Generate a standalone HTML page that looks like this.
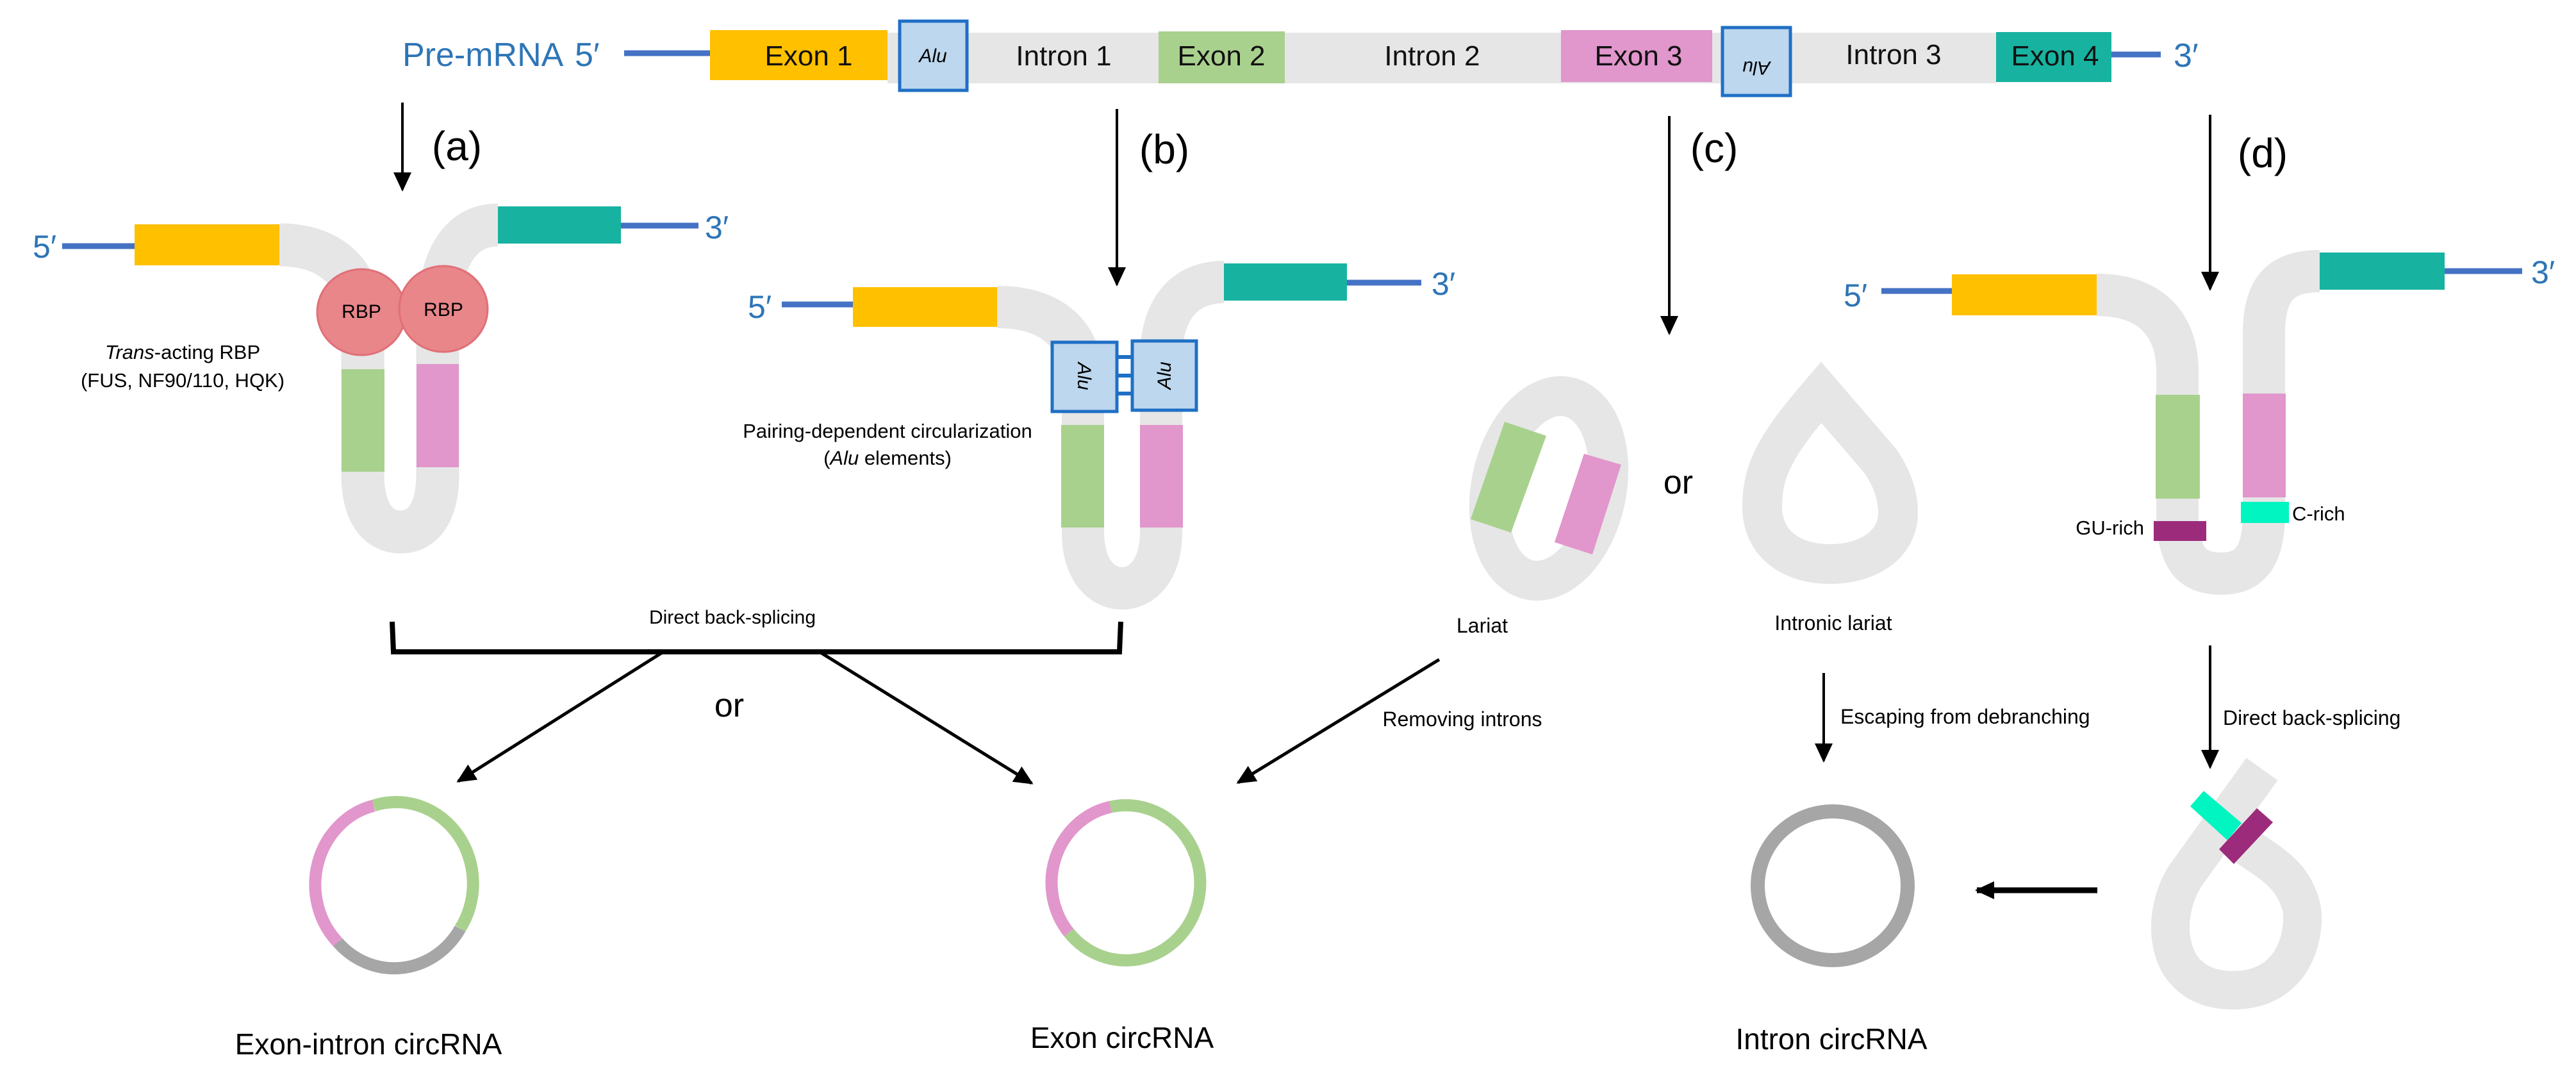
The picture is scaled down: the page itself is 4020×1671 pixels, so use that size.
<!DOCTYPE html>
<html><head><meta charset="utf-8"><style>
html,body{margin:0;padding:0;background:#fff}
svg{display:block}
text{font-family:"Liberation Sans Narrow","Liberation Sans",sans-serif}
</style></head><body>
<svg width="4020" height="1671" viewBox="0 0 4020 1671" xmlns="http://www.w3.org/2000/svg">
<defs>
<marker id="ah" viewBox="0 0 10 10" refX="9" refY="5" markerWidth="30" markerHeight="28" orient="auto" markerUnits="userSpaceOnUse" preserveAspectRatio="none"><path d="M0,0 L10,5 L0,10 z" fill="#000"/></marker>
</defs>
<!-- Top pre-mRNA -->
<text x="628" y="103" font-size="52" fill="#2e75b6">Pre-mRNA</text>
<text x="897" y="103" font-size="52" fill="#2e75b6">5′</text>
<line x1="974" y1="83" x2="1108" y2="83" stroke="#4472c4" stroke-width="9"/>
<rect x="1385" y="51" width="1730" height="79" fill="#e6e6e6"/>
<rect x="1108" y="47" width="277" height="78" fill="#ffc000"/>
<rect x="1808" y="49" width="197" height="81" fill="#a9d18e"/>
<rect x="2436" y="47" width="236" height="81" fill="#e196cc"/>
<rect x="3115" y="50" width="180" height="78" fill="#17b3a0"/>
<rect x="1404" y="33" width="105" height="108" fill="#bdd7ee" stroke="#1f6fc5" stroke-width="5"/>
<rect x="2688" y="43" width="106" height="106" fill="#bdd7ee" stroke="#1f6fc5" stroke-width="5"/>
<text x="1456" y="97" font-size="30" font-style="italic" text-anchor="middle">Alu</text>
<text transform="translate(2741,96) rotate(180)" font-size="30" font-style="italic" text-anchor="middle">Alu</text>
<g font-size="44" text-anchor="middle" fill="#111">
<text x="1262" y="102">Exon 1</text>
<text x="1660" y="102">Intron 1</text>
<text x="1906" y="102">Exon 2</text>
<text x="2235" y="102">Intron 2</text>
<text x="2557" y="102">Exon 3</text>
<text x="2955" y="100">Intron 3</text>
<text x="3207" y="102">Exon 4</text>
</g>
<line x1="3295" y1="85" x2="3372" y2="85" stroke="#4472c4" stroke-width="9"/>
<text x="3392" y="104" font-size="52" fill="#2e75b6">3′</text>

<!-- down arrows -->
<g stroke="#000" stroke-width="4" fill="none">
<line x1="628" y1="160" x2="628" y2="296" marker-end="url(#ah)"/>
<line x1="1743" y1="170" x2="1743" y2="444" marker-end="url(#ah)"/>
<line x1="2605" y1="181" x2="2605" y2="520" marker-end="url(#ah)"/>
<line x1="3449" y1="179" x2="3449" y2="451" marker-end="url(#ah)"/>
<line x1="2846" y1="1050" x2="2846" y2="1187" marker-end="url(#ah)"/>
<line x1="3449" y1="1007" x2="3449" y2="1197" marker-end="url(#ah)"/>
</g>
<g font-size="64" text-anchor="middle" fill="#000">
<text x="713" y="250">(a)</text>
<text x="1817" y="255">(b)</text>
<text x="2675" y="253">(c)</text>
<text x="3531" y="261">(d)</text>
</g>

<!-- Panel a -->
<path d="M436 382 C520 382 566 430 566 510 L566 740 C566 800 590 830 625 830 C660 830 683 800 683 740 L683 510 C683 400 720 351 777 351" fill="none" stroke="#e6e6e6" stroke-width="67"/>
<text x="51" y="402" font-size="50" fill="#2e75b6">5′</text>
<line x1="97" y1="384" x2="210" y2="384" stroke="#4472c4" stroke-width="9"/>
<rect x="210" y="350" width="226" height="64" fill="#ffc000"/>
<rect x="777" y="322" width="192" height="58" fill="#17b3a0"/>
<line x1="969" y1="352" x2="1090" y2="352" stroke="#4472c4" stroke-width="9"/>
<text x="1100" y="372" font-size="50" fill="#2e75b6">3′</text>
<rect x="533" y="576" width="67" height="160" fill="#a9d18e"/>
<rect x="650" y="568" width="66" height="161" fill="#e196cc"/>
<ellipse cx="564" cy="487" rx="69" ry="67" fill="#e8868a" stroke="#e07078" stroke-width="3"/>
<ellipse cx="692" cy="482" rx="69" ry="67" fill="#e8868a" stroke="#e07078" stroke-width="3"/>
<text x="564" y="496" font-size="30" text-anchor="middle">RBP</text>
<text x="692" y="493" font-size="30" text-anchor="middle">RBP</text>
<text x="285" y="560" font-size="31" text-anchor="middle"><tspan font-style="italic">Trans</tspan>-acting RBP</text>
<text x="285" y="604" font-size="31" text-anchor="middle">(FUS, NF90/110, HQK)</text>

<!-- Panel b -->
<path d="M1556 479 C1640 479 1690 520 1690 600 L1690 830 C1690 890 1720 918 1751 918 C1782 918 1812 890 1812 830 L1812 560 C1812 480 1850 440 1910 440" fill="none" stroke="#e6e6e6" stroke-width="66"/>
<text x="1167" y="496" font-size="50" fill="#2e75b6">5′</text>
<line x1="1220" y1="475" x2="1331" y2="475" stroke="#4472c4" stroke-width="9"/>
<rect x="1331" y="448" width="225" height="62" fill="#ffc000"/>
<rect x="1910" y="411" width="192" height="58" fill="#17b3a0"/>
<line x1="2102" y1="441" x2="2218" y2="441" stroke="#4472c4" stroke-width="9"/>
<text x="2234" y="460" font-size="50" fill="#2e75b6">3′</text>
<g stroke="#1f6fc5" stroke-width="6"><line x1="1743" y1="557" x2="1767" y2="557"/><line x1="1743" y1="586" x2="1767" y2="586"/><line x1="1743" y1="614" x2="1767" y2="614"/></g>
<rect x="1642" y="534" width="101" height="108" fill="#bdd7ee" stroke="#1f6fc5" stroke-width="5"/>
<rect x="1767" y="532" width="100" height="108" fill="#bdd7ee" stroke="#1f6fc5" stroke-width="5"/>
<text transform="translate(1682,587) rotate(90)" font-size="30" font-style="italic" text-anchor="middle">Alu</text>
<text transform="translate(1827,586) rotate(-90)" font-size="30" font-style="italic" text-anchor="middle">Alu</text>
<rect x="1656" y="663" width="67" height="160" fill="#a9d18e"/>
<rect x="1779" y="663" width="67" height="160" fill="#e196cc"/>
<text x="1385" y="683" font-size="31" text-anchor="middle">Pairing-dependent circularization</text>
<text x="1385" y="725" font-size="31" text-anchor="middle">(<tspan font-style="italic">Alu</tspan> elements)</text>

<!-- Panel c -->
<ellipse cx="2417" cy="762" rx="90" ry="146" transform="rotate(12 2417 762)" fill="none" stroke="#e6e6e6" stroke-width="62"/>
<polygon points="2348,658 2413,680 2358,831 2295,810" fill="#a9d18e"/>
<polygon points="2472,708 2530,725 2485,865 2426,846" fill="#e196cc"/>
<text x="2619" y="770" font-size="52" text-anchor="middle">or</text>
<path d="M2842 612 L2935 720 Q2962 760 2962 800 C2962 850 2915 880 2856 880 C2797 880 2750 850 2750 790 C2750 730 2775 690 2842 612 Z" fill="none" stroke="#e6e6e6" stroke-width="62" stroke-linejoin="miter" stroke-miterlimit="10"/>
<g font-size="32" text-anchor="middle">
<text x="2313" y="987">Lariat</text>
<text x="2861" y="983">Intronic lariat</text>
</g>
<text x="2282" y="1133" font-size="32" text-anchor="middle">Removing introns</text>
<text x="2872" y="1129" font-size="32">Escaping from debranching</text>
<text x="3469" y="1131" font-size="32">Direct back-splicing</text>
<line x1="2246" y1="1029" x2="1932" y2="1221" stroke="#000" stroke-width="5" marker-end="url(#ah)"/>

<!-- Panel d -->
<path d="M3272 460 C3360 460 3398 510 3398 580 L3398 800 C3398 870 3420 895 3466 895 C3510 895 3533 870 3533 800 L3533 520 C3533 450 3560 423 3620 423" fill="none" stroke="#e6e6e6" stroke-width="66"/>
<text x="2877" y="478" font-size="50" fill="#2e75b6">5′</text>
<line x1="2936" y1="454" x2="3046" y2="454" stroke="#4472c4" stroke-width="9"/>
<rect x="3046" y="428" width="226" height="64" fill="#ffc000"/>
<rect x="3620" y="394" width="195" height="58" fill="#17b3a0"/>
<line x1="3815" y1="423" x2="3936" y2="423" stroke="#4472c4" stroke-width="9"/>
<text x="3950" y="442" font-size="50" fill="#2e75b6">3′</text>
<rect x="3364" y="616" width="69" height="162" fill="#a9d18e"/>
<rect x="3500" y="614" width="67" height="162" fill="#e196cc"/>
<rect x="3497" y="783" width="75" height="33" fill="#00f5c0"/>
<rect x="3361" y="813" width="82" height="31" fill="#9c2b7c"/>
<text x="3577" y="812" font-size="31">C-rich</text>
<text x="3346" y="834" font-size="31" text-anchor="end">GU-rich</text>

<path d="M3530 1200 L3415 1360 C3370 1420 3370 1545 3485 1545 C3590 1545 3600 1440 3590 1410 C3575 1360 3540 1345 3490 1310" fill="none" stroke="#e6e6e6" stroke-width="60"/>
<polygon points="3418,1258 3439,1234 3498,1284 3476,1311" fill="#00f5c0"/>
<polygon points="3463,1325 3522,1261 3547,1283 3486,1348" fill="#9c2b7c"/>
<line x1="3273" y1="1389" x2="3085" y2="1389" stroke="#000" stroke-width="9" marker-end="url(#ah)"/>
<ellipse cx="2860" cy="1382" rx="117" ry="116" fill="none" stroke="#a6a6a6" stroke-width="22"/>

<!-- bracket -->
<text x="1143" y="973" font-size="30" text-anchor="middle">Direct back-splicing</text>
<path d="M612 970 L614 1017 L1747 1017 L1749 970" fill="none" stroke="#000" stroke-width="8"/>
<line x1="1032" y1="1019" x2="715" y2="1219" stroke="#000" stroke-width="5" marker-end="url(#ah)"/>
<line x1="1282" y1="1019" x2="1610" y2="1222" stroke="#000" stroke-width="5" marker-end="url(#ah)"/>
<text x="1138" y="1118" font-size="52" text-anchor="middle">or</text>

<!-- circles -->
<g fill="none" stroke-width="19">
<path d="M583 1257 A120 127 0 0 1 718 1449" stroke="#a9d18e"/>
<path d="M718 1449 A120 127 0 0 1 527 1470" stroke="#a6a6a6"/>
<path d="M527 1470 A120 127 0 0 1 583 1257" stroke="#e196cc"/>
<path d="M1733 1259 A116 121 0 1 1 1668 1455" stroke="#a9d18e"/>
<path d="M1668 1455 A116 121 0 0 1 1733 1259" stroke="#e196cc"/>
</g>
<g font-size="46" text-anchor="middle">
<text x="575" y="1645">Exon-intron circRNA</text>
<text x="1751" y="1635">Exon circRNA</text>
<text x="2858" y="1637">Intron circRNA</text>
</g>
</svg>
</body></html>
